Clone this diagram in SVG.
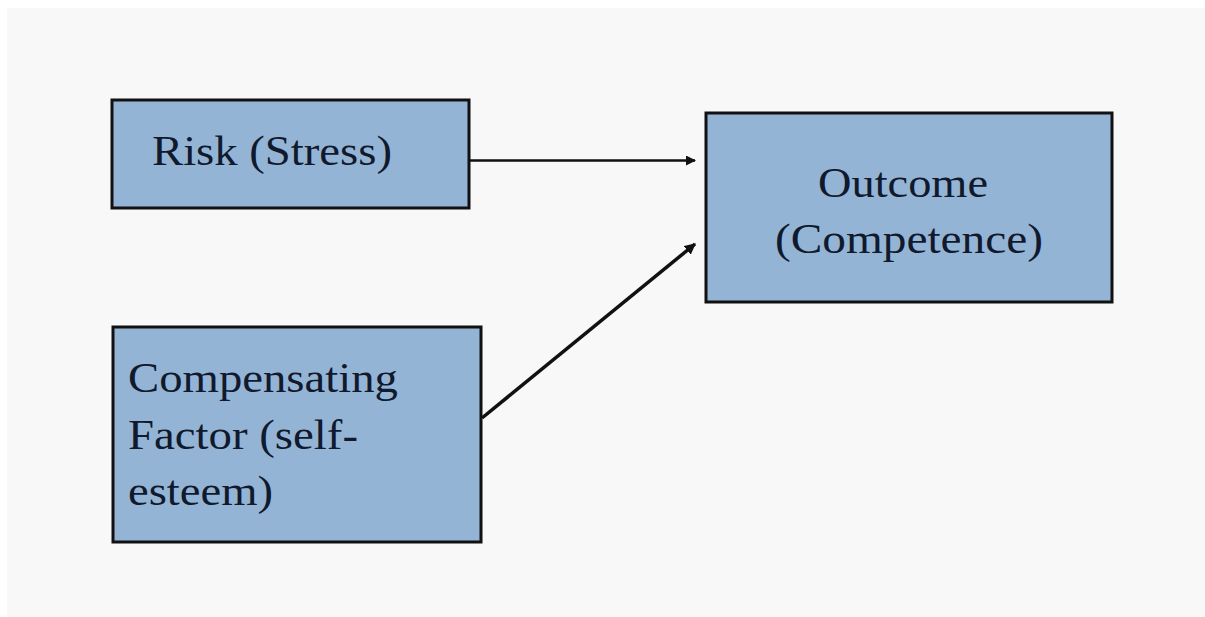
<svg xmlns="http://www.w3.org/2000/svg" width="1205" height="617" viewBox="0 0 1205 617">
<defs>
<style>
.box{fill:#94b4d6;stroke:#111;stroke-width:3}
.lbl{font-family:"Liberation Serif","Times New Roman",serif;font-size:42px;fill:#101a2c}
.conn{stroke:#111;stroke-width:2.5;fill:none}
.thick{stroke-width:3.5}
</style>
<marker id="ah" viewBox="0 0 10 10" refX="9" refY="5" markerWidth="4" markerHeight="4" orient="auto" markerUnits="strokeWidth">
<path d="M0,0 L10,5 L0,10 z" fill="#111"/>
</marker>
<marker id="ah2" viewBox="0 0 10 10" refX="9" refY="5" markerWidth="3.2" markerHeight="3.2" orient="auto" markerUnits="strokeWidth">
<path d="M0,0 L10,5 L0,10 z" fill="#111"/>
</marker>
</defs>
<rect x="0" y="0" width="1205" height="617" fill="#ffffff"/>
<rect x="7" y="8" width="1198" height="609" fill="#f8f8f8"/>
<g id="connectors">
<line class="conn" x1="469" y1="160.5" x2="695" y2="160.5" marker-end="url(#ah)"/>
<line class="conn thick" x1="482" y1="418" x2="695" y2="244" marker-end="url(#ah2)"/>
</g>
<g id="risk">
<rect class="box" x="112" y="100" width="357" height="108"/>
<text class="lbl" x="152" y="165" textLength="240" lengthAdjust="spacingAndGlyphs">Risk (Stress)</text>
</g>
<g id="outcome">
<rect class="box" x="706" y="113" width="406" height="189"/>
<text class="lbl" x="818" y="197" textLength="170" lengthAdjust="spacingAndGlyphs">Outcome</text>
<text class="lbl" x="775" y="253" textLength="268" lengthAdjust="spacingAndGlyphs">(Competence)</text>
</g>
<g id="compensating">
<rect class="box" x="113" y="327" width="368" height="215"/>
<text class="lbl" x="128" y="392" textLength="270" lengthAdjust="spacingAndGlyphs">Compensating</text>
<text class="lbl" x="128" y="449" textLength="230" lengthAdjust="spacingAndGlyphs">Factor (self-</text>
<text class="lbl" x="128" y="505" textLength="145" lengthAdjust="spacingAndGlyphs">esteem)</text>
</g>
</svg>
